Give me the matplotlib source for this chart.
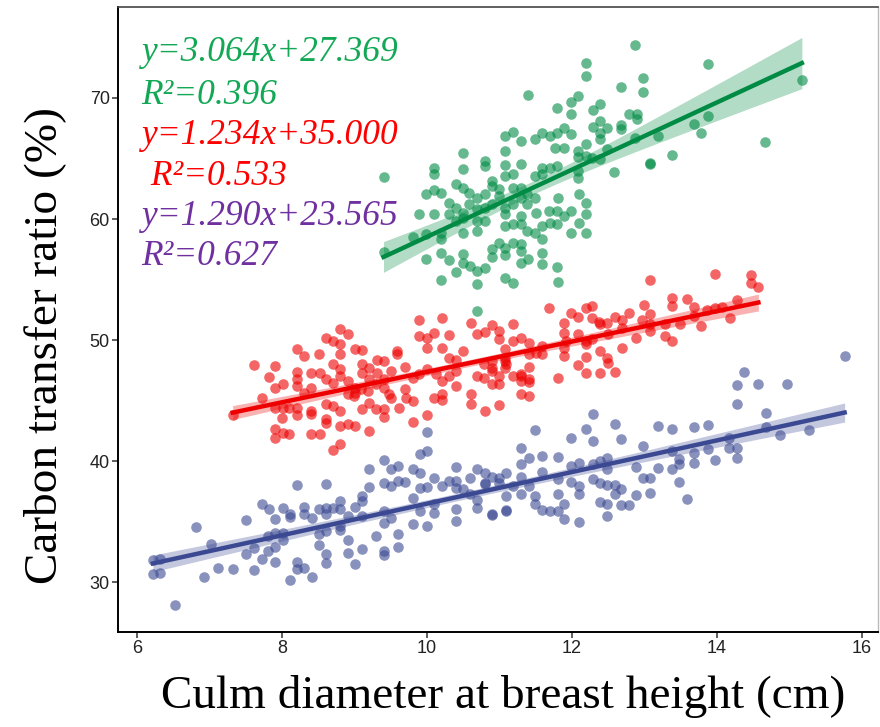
import numpy as np
import matplotlib
matplotlib.use("Agg")
import matplotlib.pyplot as plt

# group colours (AAAS-like palette)
green_color = "#008B45"
red_color = "#EE0000"
blue_color = "#3B4992"

green_x = [12.87, 12.19, 12.19, 13.87, 12.98, 12.98, 12.68, 15.17, 11.39, 12.08, 11.98, 11.79, 11.98, 12.29,
           12.38, 12.78, 12.89, 12.89, 12.38, 12.29, 12.48, 12.68, 12.68, 12.38, 12.38, 13.68, 13.87, 13.78,
           13.18, 12.87, 14.66, 13.38, 13.08, 13.08, 12.58,
           11.89, 11.79, 11.59, 11.69, 11.49, 11.29, 11.19, 11.08,
           11.77, 11.89, 11.79, 11.99, 12.08, 12.19, 12.08, 12.19, 12.28, 12.38, 12.48,
           11.08, 10.49, 10.1, 10.1, 10.5, 10.8, 10.8, 11.08, 11.29, 11.08, 11.19, 11.59, 11.59, 11.69, 11.49,
           12.08, 12.08, 9.4,
           10.9, 10.89, 10.99, 11.19, 11.29, 11.38, 11.49, 11.29, 11.08, 11.19, 11.38, 11.5, 10.8, 10.69, 10.58,
           10.49, 10.4, 10.19, 10.1, 9.99, 10.3, 10.4, 10.31, 10.5, 10.58, 10.69, 10.8, 10.89, 10.99,
           9.89, 10.1, 9.8, 9.99, 10.19, 10.19, 10.4, 10.5, 10.5, 10.69, 10.69, 10.8, 11.08, 11.08, 11.19,
           11.29, 11.29, 11.38, 11.49, 11.59, 11.59, 11.68, 11.69, 11.79, 11.79, 11.89, 11.99, 12.09, 12.19,
           12.19, 12.09, 11.99, 12.19, 11.8,
           9.4, 9.99, 10.19, 10.3, 10.5, 10.5, 10.59, 10.4, 10.69, 10.8, 10.19, 10.69, 10.89, 10.89, 10.99,
           11.08, 11.08, 11.19, 11.29, 11.29, 11.29, 11.39, 11.59, 11.59, 11.79, 11.08, 11.19, 11.8, 10.69]
green_y = [74.38, 72.92, 71.82, 72.8, 71.68, 70.5, 70.9, 71.46, 70.22, 70.14, 69.67, 69.15, 68.7, 69.0,
           69.48, 68.65, 68.7, 68.24, 68.1, 67.6, 67.55, 67.8, 67.46, 67.13, 66.58, 67.83, 68.5, 67.08,
           66.86, 66.67, 66.39, 65.29, 64.52, 64.6, 63.91,
           67.55, 67.13, 67.13, 66.86, 66.58, 66.45, 67.19, 66.86,
           65.89, 65.89, 64.38, 67.0, 65.62, 66.17, 65.12, 65.21, 65.07, 64.93, 65.76,
           65.62, 65.43, 64.24, 63.69, 64.16, 64.79, 64.38, 64.46, 64.52, 63.55, 63.69, 64.24, 63.69, 64.24, 63.55,
           63.97, 63.42, 63.49,
           63.14, 62.73, 62.45, 62.59, 62.59, 62.04, 61.76, 61.76, 60.93, 61.21, 61.21, 60.52, 62.04, 61.76, 62.17,
           62.59, 62.86, 62.17, 62.37, 62.04, 61.35, 60.93, 60.38, 60.52, 61.21, 60.8, 60.93, 61.21, 61.9,
           60.44, 60.44, 58.51, 58.73, 58.87, 58.32, 59.83, 60.11, 58.87, 59.0, 59.83, 59.83, 60.38, 59.42, 59.56,
           60.25, 59.56, 59.0, 58.87, 59.42, 58.32, 60.66, 59.7, 60.66, 59.56, 60.25, 60.66, 62.04, 61.35,
           60.38, 59.7, 58.87, 58.87, 61.76,
           57.3, 56.72, 57.22, 56.59, 57.14, 56.39, 56.12, 55.65, 55.7, 55.98, 55.0, 54.6, 57.49, 56.86, 58.04,
           57.63, 57.02, 58.04, 57.91, 57.36, 56.39, 56.67, 57.22, 56.26, 56.03, 55.14, 54.74, 54.82, 52.4]

red_x = [7.32, 7.61, 7.91, 7.82, 7.72, 7.91, 8.01, 7.91, 8.01, 7.91, 7.91, 8.01, 8.1, 8.0,
         8.2, 8.2, 8.2, 8.2, 8.2, 8.2, 8.1,
         8.31, 8.31, 8.4, 8.4, 8.4, 8.4, 8.52,
         8.4, 8.52, 8.51, 8.61,
         8.6, 8.7, 8.8, 8.91, 8.8, 8.8,
         8.7, 8.8, 8.8, 8.7,
         8.6, 8.7, 8.8, 8.61, 8.61,
         8.8, 8.91, 9.01, 8.8, 8.7,
         8.91, 9.01, 9.01, 9.11,
         8.91, 9.01, 9.11, 9.2, 9.31, 9.4, 9.31,
         9.11, 9.2, 9.3, 9.4, 9.4,
         9.11, 9.2, 9.3, 9.4, 9.4, 9.2,
         9.5, 9.5, 9.59, 9.59, 9.7, 9.7, 9.8, 9.8, 9.89, 9.89, 10.0, 10.0, 10.0, 10.1, 10.2, 10.2, 10.2,
         10.2, 10.3, 10.3, 10.4, 10.4, 10.4, 10.5, 10.6, 10.6, 10.6, 10.69, 10.69, 10.8, 10.8, 10.89,
         10.89, 10.89, 10.89, 10.99, 10.99, 10.99, 10.99, 11.08, 11.08, 11.08, 11.19, 11.19, 11.29, 11.29,
         11.29, 11.4, 11.4, 11.4, 11.4, 11.5, 11.59, 11.68, 11.8, 11.89, 11.89, 11.89, 11.99, 12.08, 12.08,
         12.08, 12.19, 12.19, 12.19,
         13.08, 13.97, 14.47, 14.47, 14.57,
         12.28, 12.28, 12.37, 12.39, 12.48, 12.59, 12.69, 12.78, 12.69, 12.99, 13.08, 12.96, 13.08, 13.08,
         13.38, 13.38, 13.58, 13.68, 13.28, 13.49, 13.78, 13.86, 13.97, 14.07, 14.27, 14.18, 13.68, 12.5,
         12.19, 11.91, 11.89, 12.28, 12.88, 12.69, 13.28, 13.38, 12.39, 12.48, 12.5, 12.19, 12.39, 12.59,
         11.4, 11.4, 11.29, 11.29, 11.18, 10.89, 10.99, 11.09, 10.79, 10.79, 11.07, 11.59,
         9.89, 10.0, 10.12, 9.8, 10.31, 10.21, 10.1, 9.71, 9.61, 9.48, 9.19, 9.09, 8.99]
red_y = [43.8, 47.93, 47.85, 46.94, 45.23, 46.06, 46.34, 44.4, 44.4, 42.62, 41.93, 42.34, 42.2, 43.58,
         49.23, 47.38, 46.75, 46.2, 44.4, 43.78, 44.4,
         48.68, 45.65, 46.06, 44.13, 43.86, 42.26, 42.26,
         47.25, 47.3, 48.82, 46.75,
         50.19, 49.92, 50.88, 50.47, 49.64, 48.82,
         47.99, 47.58, 47.02, 46.47,
         44.68, 44.55, 44.13, 43.44, 43.17,
         42.89, 43.03, 42.89, 41.38, 40.88,
         45.51, 45.65, 49.23, 49.15,
         46.61, 46.06, 47.3, 47.66, 48.32, 48.26, 47.3,
         47.99, 46.75, 46.34, 46.75, 46.06,
         44.27, 44.82, 44.27, 44.27, 43.64, 42.48,
         47.44, 45.23, 49.09, 48.82, 47.77, 45.93, 44.96, 43.26, 51.63, 50.33, 50.14, 49.31, 43.8, 50.61,
         51.79, 49.31, 45.56, 45.01, 50.41, 48.54, 48.32, 47.44, 46.2, 49.09, 51.43, 45.51, 44.68, 50.47,
         47.02, 50.66, 44.13, 51.24, 48.26, 47.44, 46.34, 50.74, 50.06, 44.63, 46.39, 49.23, 48.26, 47.71,
         51.35, 49.92, 50.19, 47.02, 45.51, 49.78, 45.37, 46.75, 48.82, 48.95, 49.5, 52.67, 46.89, 51.43,
         50.61, 48.68, 52.26, 51.9, 50.52, 47.91, 52.67, 49.64, 48.6,
         54.93, 55.43, 55.37, 54.74, 54.38,
         52.78, 51.84, 51.49, 51.3, 51.43, 51.9, 51.63, 52.26, 51.02, 52.87, 52.18, 51.63, 51.3, 50.74,
         53.44, 52.81, 53.36, 52.73, 51.3, 51.35, 51.16, 52.45, 52.67, 52.73, 53.28, 51.79, 51.98, 50.52,
         49.92, 49.92, 49.31, 50.06, 50.14, 49.31, 50.33, 49.92, 49.09, 48.54, 48.13, 47.3, 47.3, 47.38,
         47.77, 46.56, 47.16, 46.61, 47.02, 47.66, 47.02, 47.99, 47.99, 46.89, 48.54, 48.82,
         47.16, 47.58, 47.16, 46.89, 47.02, 46.61, 45.23, 45.23, 44.4, 45.51, 45.79, 45.93, 45.37]

blue_x = [6.52, 6.22, 6.32, 6.22, 6.32, 6.82, 7.02, 6.92, 7.12, 7.32, 7.61, 7.51, 7.51, 7.61, 7.72,
          7.72, 7.82, 7.81, 7.81, 7.91, 7.91, 7.91, 7.91, 8.01, 8.01, 8.01,
          8.11, 8.11, 8.11, 8.21, 8.21, 8.21, 8.31, 8.31, 8.31, 8.41, 8.41, 8.51, 8.51, 8.51, 8.61, 8.61,
          8.61, 8.61, 8.61, 8.61, 8.71, 8.8, 8.8, 8.8, 8.8, 8.91, 8.91, 8.91, 9.01, 9.01, 9.1, 9.1, 9.1,
          9.1, 9.2, 9.2, 9.3, 9.4, 9.4, 9.4, 9.4, 9.4, 9.4, 9.5, 9.5, 9.5, 9.6, 9.6, 9.6, 9.6, 9.7, 9.8,
          9.8, 9.8, 9.9, 9.9, 9.9, 9.9, 10.0, 10.0, 10.0, 10.0, 10.1, 10.1, 10.1, 10.2, 10.3, 10.4, 10.4,
          10.4, 10.4, 10.4, 10.49, 10.59, 10.59, 10.69, 10.69, 10.69, 10.8, 10.8, 10.89, 10.89, 10.99,
          11.09, 11.09, 11.09,
          15.76, 14.37, 14.27, 14.57, 14.97, 14.27, 14.67, 14.67, 14.87, 15.27,
          14.17, 14.17, 14.27, 14.27, 13.97, 13.87, 13.87, 13.68, 13.68, 13.68, 13.48, 13.48, 13.48, 13.58,
          13.38, 13.38, 13.38, 13.18, 13.18, 13.08, 13.08, 12.98, 12.98, 12.88, 12.88, 12.68, 12.68, 12.68,
          12.78, 12.59, 12.59, 12.59, 12.48, 12.48, 12.48, 12.48, 12.48, 12.39, 12.39, 12.39, 12.29, 12.29,
          12.29, 12.29, 12.19, 12.09, 12.09, 12.09, 12.09, 11.99, 11.99, 11.99, 11.89, 11.89, 11.8, 11.8,
          11.8, 11.8, 11.69, 11.59, 11.59, 11.59, 11.49, 11.49, 11.49, 11.4, 11.4, 11.29, 11.29, 11.29,
          11.29, 11.19, 11.09, 10.99, 10.9, 10.8]
blue_y = [28.1, 31.79, 31.87, 30.63, 30.77, 34.58, 33.11, 30.41, 31.13, 31.05, 30.97, 35.12, 32.29, 32.84, 31.87,
          36.42, 36.01, 33.8, 32.56, 35.23, 34.07, 32.89, 31.68, 36.14, 34.07, 33.45,
          35.65, 35.37, 30.14, 37.99, 31.68, 31.05, 36.2, 35.65, 31.18, 35.26, 30.41, 36.01, 33.94, 33.06,
          38.12, 36.09, 35.65, 34.21, 32.29, 31.6, 36.14, 36.69, 36.01, 34.63, 34.27, 35.45, 33.45, 32.42,
          36.2, 31.52, 37.11, 36.69, 35.45, 32.7, 39.31, 37.85, 33.8, 40.06, 38.21, 35.87, 34.9, 32.56,
          32.23, 39.31, 37.93, 35.31, 39.59, 38.35, 33.94, 32.89, 38.29, 39.31, 36.92, 34.82, 40.55, 39.03,
          37.74, 35.87, 42.42, 40.83, 34.63, 37.85, 38.62, 36.42, 35.73, 37.93, 38.35, 39.5, 38.35, 37.74,
          36.01, 35.04, 37.66, 38.57, 37.25, 39.31, 36.14, 36.75, 39.03, 38.07, 38.68, 35.51, 38.21, 39.03,
          37.11, 35.93,
          48.68, 47.36, 46.28, 46.34, 46.34, 44.74, 43.99, 42.81, 42.15, 42.54,
          41.93, 41.1, 41.05, 40.22, 40.06, 40.97, 42.98, 42.81, 40.69, 39.86, 40.14, 39.73, 38.29, 36.83,
          42.62, 39.31, 40.83, 42.89, 39.4, 38.57, 37.38, 41.24, 38.62, 39.5, 37.19, 41.79, 37.66, 36.36,
          36.36, 43.03, 38.02, 37.25, 40.27, 39.31, 38.02, 36.47, 35.45, 40.0, 38.21, 36.64, 43.91, 41.65,
          39.73, 38.49, 42.62, 39.86, 37.93, 37.25, 34.99, 41.93, 39.59, 38.29, 36.47, 35.18, 40.33, 38.49,
          37.25, 35.87, 35.87, 40.41, 39.12, 35.95, 42.54, 37.11, 36.47, 40.27, 37.93, 41.05, 39.73, 38.68,
          37.25, 37.93, 35.87, 38.62, 35.59, 38.21]

labels = [
    ("y=3.064x+27.369", "#13A855"),
    ("R\u00b2=0.396", "#13A855"),
    ("y=1.234x+35.000", "#FF0000"),
    (" R\u00b2=0.533", "#FF0000"),
    ("y=1.290x+23.565", "#7030A0"),
    ("R\u00b2=0.627", "#7030A0"),
]


def lm_band(x, y, n_pts=100):
    x = np.asarray(x)
    y = np.asarray(y)
    slope, icept = np.polyfit(x, y, 1)
    xs = np.linspace(x.min(), x.max(), n_pts)
    fit = slope * xs + icept
    n = len(x)
    resid = y - (slope * x + icept)
    s = np.sqrt(np.sum(resid ** 2) / (n - 2))
    se = s * np.sqrt(1.0 / n + (xs - x.mean()) ** 2 / np.sum((x - x.mean()) ** 2))
    return xs, fit, fit - 1.97 * se, fit + 1.97 * se


fig = plt.figure(figsize=(8.8, 7.27), dpi=100)
ax = fig.add_axes([118 / 880, 95 / 727, 760 / 880, 625 / 727])

groups = [(green_x, green_y, green_color),
          (red_x, red_y, red_color),
          (blue_x, blue_y, blue_color)]

for gx, gy, col in groups:
    ax.scatter(gx, gy, s=58, color=col, alpha=0.6, linewidths=0, zorder=2)

for gx, gy, col in groups:
    xs, fit, lo, hi = lm_band(gx, gy)
    ax.fill_between(xs, lo, hi, color=col, alpha=0.3, linewidth=0, zorder=3)
    ax.plot(xs, fit, color=col, lw=3.2, zorder=4)

ax.set_xlim(5.738, 16.22)
ax.set_ylim(25.87, 77.52)
ax.set_xticks([6, 8, 10, 12, 14, 16])
ax.set_yticks([30, 40, 50, 60, 70])
ax.tick_params(direction="out", length=4, width=1.1, color="#333333",
               labelsize=13, labelcolor="#222222", pad=2)
for lab in ax.get_xticklabels() + ax.get_yticklabels():
    lab.set_family("Liberation Sans")

for side in ["left", "bottom"]:
    ax.spines[side].set_color("black")
    ax.spines[side].set_linewidth(1.4)
ax.spines["top"].set_color("#444444")
ax.spines["top"].set_linewidth(1.2)
ax.spines["right"].set_color("#bbbbbb")
ax.spines["right"].set_linewidth(1.0)

# regression equations
ys = [0.914, 0.845, 0.781, 0.715, 0.651, 0.587]
for (txt, col), yy in zip(labels, ys):
    ax.text(0.031, yy, txt, transform=ax.transAxes, color=col, fontsize=25.5,
            family="Liberation Serif", style="italic", ha="left", va="baseline")

fig.text(503 / 880, 1 - 697 / 727, "Culm diameter at breast height (cm)",
         family="Liberation Serif", fontsize=34, ha="center", va="center")
fig.text(45 / 880, 1 - 345 / 727, "Carbon transfer ratio (%)",
         family="Liberation Serif", fontsize=34, rotation=90, ha="center", va="center")

fig.savefig("out.png", dpi=100)
